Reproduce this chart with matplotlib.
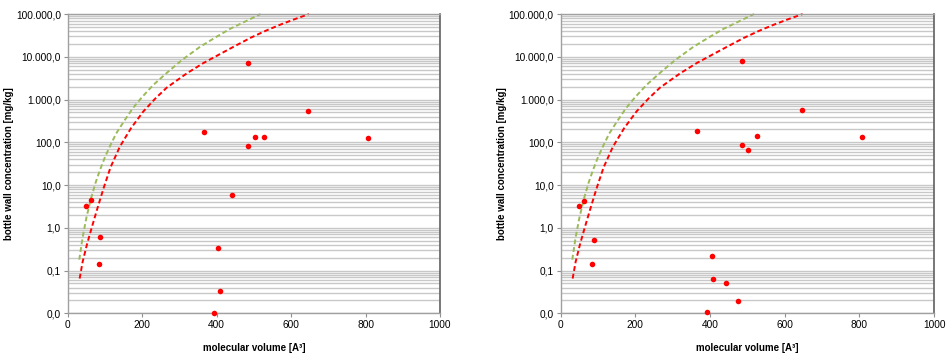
import numpy as np
import matplotlib
matplotlib.use("Agg")
import matplotlib.pyplot as plt
from matplotlib.ticker import FixedLocator, LogLocator, NullFormatter

plt.rcParams['font.family'] = ['Liberation Sans', 'DejaVu Sans']

# measured points, left panel
x_left = [48, 62, 87, 84, 366, 405, 408, 393, 442, 485, 485, 503, 527, 646, 808]
y_left = [3.3, 4.5, 0.61, 0.14, 174, 0.34, 0.034, 0.01, 5.8, 7100, 80, 130, 135, 530, 124]

# measured points, right panel
x_right = [48, 63, 88, 85, 366, 404, 409, 442, 474, 393, 485, 485, 503, 527, 645, 808]
y_right = [3.2, 4.2, 0.51, 0.14, 184, 0.22, 0.065, 0.05, 0.019, 0.011, 7800, 88, 65, 143, 580, 131]

# dashed model curves (same on both panels)
x_green = [31, 40, 50, 62, 75, 87, 100, 114, 130, 150, 175, 200, 230, 266, 306, 355,
           400, 436, 480, 518]
y_green = [0.18, 0.6, 1.7, 4.7, 11.5, 23, 45, 83, 160, 300, 630, 1150, 2200, 4200, 8300,
           17000, 29500, 45000, 69000, 100000]
x_red = [32, 40, 52, 65, 80, 96, 115, 140, 170, 203, 235, 266, 320, 364, 400, 436, 490,
         530, 570, 610, 648]
y_red = [0.065, 0.16, 0.42, 1.05, 2.9, 8.3, 26, 79, 214, 525, 1050, 1900, 4100, 7100,
         10500, 15500, 27500, 40000, 56000, 76000, 100000]

ytick_vals = [0.01, 0.1, 1, 10, 100, 1000, 10000, 100000]
ytick_labels = ['0,0', '0,1', '1,0', '10,0', '100,0', '1.000,0', '10.000,0', '100.000,0']

fig = plt.figure(figsize=(9.5, 3.6), dpi=100)
ax1 = fig.add_axes([0.0713, 0.1297, 0.3918, 0.8313])
ax2 = fig.add_axes([0.5902, 0.1297, 0.3930, 0.8313])


def draw(ax, xs, ys):
    ax.set_yscale('log')
    ax.set_xlim(0, 1000)
    ax.set_ylim(0.01, 100000)
    ax.yaxis.set_major_locator(FixedLocator(ytick_vals))
    ax.set_yticklabels(ytick_labels)
    ax.yaxis.set_minor_locator(LogLocator(base=10, subs=np.arange(2, 10)))
    ax.yaxis.set_minor_formatter(NullFormatter())
    ax.set_xticks([0, 200, 400, 600, 800, 1000])
    ax.grid(True, which='both', axis='y', color='#c8c8c8', lw=1.0)
    ax.set_axisbelow(True)
    ax.tick_params(axis='both', which='major', length=3, width=0.8, color='#909090',
                   labelsize=7.3, pad=2)
    ax.tick_params(axis='y', which='minor', length=0)
    for side in ['left', 'bottom', 'top']:
        ax.spines[side].set_color('#a0a0a0')
        ax.spines[side].set_linewidth(1.0)
    ax.spines['right'].set_color('#606060')
    ax.spines['right'].set_linewidth(1.2)

    ax.plot(x_green, y_green, color='#9bbb59', lw=1.4, ls=(0, (2.5, 1.5)), clip_on=False)
    ax.plot(x_red, y_red, color='#ff0000', lw=1.4, ls=(0, (2.5, 1.5)), clip_on=False)
    ax.plot(xs, ys, 'o', color='#ff0000', ms=4, mec='none', clip_on=False, zorder=5)

    ax.set_xlabel('molecular volume [A³]', fontsize=7, fontweight='bold', labelpad=9)
    ax.set_ylabel('bottle wall concentration [mg/kg]', fontsize=7, fontweight='bold', labelpad=1)


draw(ax1, x_left, y_left)
draw(ax2, x_right, y_right)

fig.savefig('out.png', dpi=100)
